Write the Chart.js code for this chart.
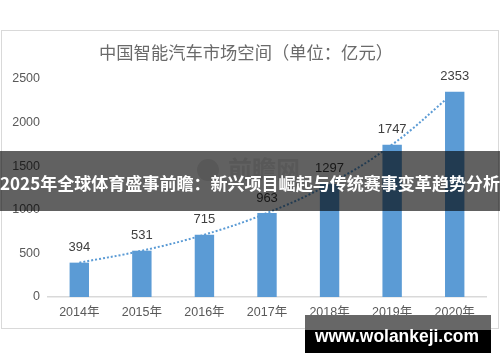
<!DOCTYPE html>
<html><head><meta charset="utf-8">
<script src="https://cdn.jsdelivr.net/npm/chart.js@4.4.1/dist/chart.umd.min.js"></script>
<style>html,body{margin:0;padding:0;background:#fff}#wrap{width:500px;height:362px;position:relative}</style>
</head><body><div id="wrap"><canvas id="c" width="500" height="362"></canvas></div>
<script>
const categories = ["2014年","2015年","2016年","2017年","2018年","2019年","2020年"];
const marketSize = [394, 531, 715, 963, 1297, 1747, 2353];
const trendValues = [394, 531, 715, 963, 1297, 1747, 2353];
const yTicks = [0, 500, 1000, 1500, 2000, 2500];
const chartTitle = "中国智能汽车市场空间（单位：亿元）";
const bannerText = "2025年全球体育盛事前瞻：新兴项目崛起与传统赛事变革趋势分析";
const siteText = "www.wolankeji.com";
const logoText = "前瞻网";

const FONT = '"Liberation Sans","Noto Sans CJK SC",sans-serif';

const deco = {
  id: 'deco',
  beforeDraw(chart) {
    const ctx = chart.ctx;
    ctx.save();
    ctx.fillStyle = '#fff';
    ctx.fillRect(0, 0, 500, 362);
    ctx.strokeStyle = '#d9d9d9';
    ctx.lineWidth = 1;
    ctx.strokeRect(1.5, 30.5, 497, 298);
    ctx.fillStyle = '#6a6a6a';
    ctx.font = '17.5px "Noto Sans CJK SC", sans-serif';
    ctx.textAlign = 'center';
    ctx.textBaseline = 'middle';
    ctx.fillText(chartTitle, 246, 52, 294);
    ctx.restore();
  },
  afterDatasetsDraw(chart) {
    const ctx = chart.ctx;
    const meta = chart.getDatasetMeta(1);
    ctx.save();
    ctx.fillStyle = '#404040';
    ctx.font = '13px ' + FONT;
    ctx.textAlign = 'center';
    ctx.textBaseline = 'middle';
    meta.data.forEach((bar, i) => {
      ctx.fillText(String(marketSize[i]), bar.x, bar.y - 15);
    });
    ctx.restore();
  },
  afterDraw(chart) {
    const ctx = chart.ctx;
    ctx.save();
    // faint logo watermark
    ctx.fillStyle = 'rgba(120,120,120,0.18)';
    ctx.font = 'bold 24px "Noto Sans CJK SC", sans-serif';
    ctx.textAlign = 'left';
    ctx.textBaseline = 'middle';
    ctx.fillText(logoText, 228, 169);
    ctx.beginPath();
    ctx.arc(208, 170, 11, 0, Math.PI * 2);
    ctx.fill();
    // banner
    ctx.fillStyle = 'rgba(0,0,0,0.62)';
    ctx.fillRect(0, 151, 500, 60);
    ctx.fillStyle = '#fff';
    ctx.font = 'bold 17.6px "Noto Sans CJK SC", sans-serif';
    ctx.textAlign = 'center';
    ctx.textBaseline = 'middle';
    ctx.fillText(bannerText, 250, 183, 500);
    // site watermark
    ctx.fillStyle = '#676767';
    ctx.fillRect(305, 315, 186, 15);
    ctx.fillStyle = '#000';
    ctx.fillRect(305, 330, 186, 23);
    ctx.fillStyle = '#fff';
    ctx.font = 'bold 18px "Liberation Sans", sans-serif';
    ctx.fillText(siteText, 397, 337, 164);
    ctx.restore();
  }
};

new Chart(document.getElementById('c'), {
  data: {
    labels: categories,
    datasets: [
      {
        type: 'line',
        data: trendValues,
        borderColor: '#5b9bd5',
        borderWidth: 2,
        borderDash: [2, 2],
        pointRadius: 0,
        tension: 0.4,
        fill: false,
        order: 0
      },
      {
        type: 'bar',
        data: marketSize,
        backgroundColor: '#5b9bd5',
        categoryPercentage: 1,
        barPercentage: 0.31,
        order: 1
      }
    ]
  },
  options: {
    responsive: false,
    animation: false,
    devicePixelRatio: 1,
    layout: { padding: { top: 79, right: 14, bottom: 0, left: 0 } },
    plugins: { legend: { display: false }, title: { display: false }, tooltip: { enabled: false } },
    scales: {
      x: {
        grid: { display: false, drawTicks: false },
        border: { display: true, color: '#d9d9d9', width: 1.5 },
        ticks: { color: '#595959', font: { size: 12.5, family: FONT }, padding: 8, maxRotation: 0 },
        afterFit(s) { s.height = 65; }
      },
      y: {
        min: 0, max: 2500,
        afterBuildTicks(s) { s.ticks = yTicks.map(v => ({ value: v })); },
        grid: { display: false, drawTicks: false },
        border: { display: false },
        ticks: { color: '#595959', font: { size: 12.5, family: FONT }, padding: 8, callback: v => String(v) },
        afterFit(s) { s.width = 48; }
      }
    }
  },
  plugins: [deco]
});
</script>
</body></html>
